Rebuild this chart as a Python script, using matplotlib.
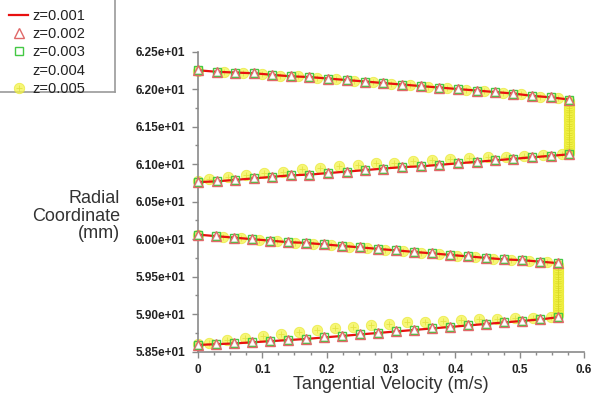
import matplotlib
matplotlib.use("Agg")
import matplotlib.pyplot as plt
from matplotlib.lines import Line2D
from matplotlib.legend_handler import HandlerTuple
from matplotlib.ticker import MultipleLocator, FuncFormatter

# ---------------- data ----------------
labels = ["z=0.001", "z=0.002", "z=0.003", "z=0.004", "z=0.005"]

# outer gap, upper wall -> inner wall (velocity, radial coordinate)
vel_upper = [0.000, 0.029, 0.058, 0.087, 0.115, 0.144, 0.173, 0.202, 0.231, 0.260, 0.288,
             0.317, 0.346, 0.375, 0.404, 0.433, 0.462, 0.490, 0.519, 0.548, 0.577]
rad_a = [62.25, 62.23, 62.22, 62.21, 62.19, 62.17, 62.16, 62.14, 62.12, 62.10, 62.08,
         62.06, 62.04, 62.02, 62.00, 61.98, 61.96, 61.94, 61.91, 61.89, 61.86]
rad_b = [60.76, 60.77, 60.79, 60.81, 60.83, 60.85, 60.86, 60.88, 60.90, 60.92, 60.94,
         60.96, 60.97, 60.99, 61.01, 61.03, 61.05, 61.07, 61.09, 61.11, 61.13]

vel_lower = [0.000, 0.028, 0.056, 0.084, 0.112, 0.140, 0.168, 0.196, 0.224, 0.252, 0.280,
             0.308, 0.336, 0.364, 0.392, 0.420, 0.448, 0.476, 0.504, 0.532, 0.560]
rad_c = [60.06, 60.04, 60.02, 60.00, 59.98, 59.96, 59.95, 59.93, 59.91, 59.89, 59.87,
         59.85, 59.83, 59.81, 59.79, 59.77, 59.75, 59.73, 59.72, 59.70, 59.68]
rad_d = [58.59, 58.60, 58.61, 58.625, 58.64, 58.655, 58.67, 58.69, 58.71, 58.73, 58.75,
         58.77, 58.79, 58.81, 58.83, 58.85, 58.87, 58.89, 58.91, 58.93, 58.96]

# z=0.005 series (slightly different from the others)
vel5_a = [0.000, 0.041, 0.070, 0.099, 0.127, 0.156, 0.185, 0.214, 0.243, 0.272, 0.300,
          0.329, 0.358, 0.387, 0.416, 0.445, 0.474, 0.502, 0.531, 0.560]
rad5_a = [62.24, 62.23, 62.22, 62.20, 62.18, 62.17, 62.15, 62.13, 62.11, 62.09, 62.07,
          62.05, 62.03, 62.01, 61.99, 61.97, 61.95, 61.93, 61.90, 61.88]
vel5_b = [0.000, 0.017, 0.046, 0.075, 0.103, 0.132, 0.161, 0.190, 0.219, 0.248, 0.276,
          0.305, 0.334, 0.363, 0.392, 0.421, 0.450, 0.478, 0.507, 0.536, 0.565]
rad5_b = [60.77, 60.80, 60.83, 60.86, 60.88, 60.90, 60.93, 60.95, 60.97, 60.99, 61.01,
          61.02, 61.04, 61.05, 61.07, 61.08, 61.09, 61.10, 61.11, 61.12, 61.14]
vel5_ab = [0.577] * 24
rad5_ab = [61.15, 61.18, 61.21, 61.24, 61.27, 61.30, 61.33, 61.36, 61.39, 61.42, 61.45, 61.48,
           61.51, 61.54, 61.57, 61.60, 61.63, 61.66, 61.69, 61.72, 61.75, 61.78, 61.81, 61.84]

vel5_c = [0.000, 0.039, 0.067, 0.095, 0.123, 0.151, 0.179, 0.207, 0.235, 0.263, 0.291,
          0.319, 0.347, 0.375, 0.403, 0.431, 0.459, 0.487, 0.515, 0.543]
rad5_c = [60.05, 60.03, 60.01, 59.99, 59.97, 59.95, 59.94, 59.92, 59.90, 59.88, 59.86,
          59.84, 59.82, 59.80, 59.78, 59.76, 59.74, 59.72, 59.71, 59.69]
vel5_d = [0.000, 0.017, 0.045, 0.073, 0.101, 0.129, 0.157, 0.185, 0.213, 0.241, 0.269,
          0.297, 0.325, 0.353, 0.381, 0.409, 0.437, 0.465, 0.493, 0.521, 0.549]
rad5_d = [58.60, 58.62, 58.65, 58.68, 58.71, 58.74, 58.76, 58.79, 58.81, 58.83, 58.85,
          58.87, 58.89, 58.90, 58.91, 58.92, 58.93, 58.94, 58.95, 58.95, 58.96]
vel5_cd = [0.560] * 23
rad5_cd = [58.99, 59.02, 59.05, 59.08, 59.11, 59.14, 59.17, 59.20, 59.23, 59.26, 59.29, 59.32,
           59.35, 59.38, 59.41, 59.44, 59.47, 59.50, 59.53, 59.56, 59.59, 59.62, 59.65]

x_ticks = [0, 0.1, 0.2, 0.3, 0.4, 0.5, 0.6]
y_ticks = [58.5, 59.0, 59.5, 60.0, 60.5, 61.0, 61.5, 62.0, 62.5]

# ---------------- figure ----------------
plt.rcParams['font.family'] = ['Liberation Sans', 'DejaVu Sans']
fig = plt.figure(figsize=(5.94, 4.05), dpi=100)
ax = fig.add_axes([0.3333, 0.1316, 0.9832 - 0.3333, 0.8728 - 0.1316])
ax.set_xlim(0, 0.6)
ax.set_ylim(58.5, 62.5)

ycol = '#f3f34a'
ycol_edge = '#e8e830'
segments_main = [(vel_upper, rad_a), (vel_upper, rad_b), (vel_lower, rad_c), (vel_lower, rad_d)]
segments_5 = [(vel5_a, rad5_a), (vel5_b, rad5_b), (vel5_ab, rad5_ab),
              (vel5_c, rad5_c), (vel5_d, rad5_d), (vel5_cd, rad5_cd)]

for vx, ry in segments_5:
    ax.plot(vx, ry, ls='none', marker='o', ms=7.5, mfc=ycol, mec=ycol_edge, mew=0.6,
            alpha=0.75, zorder=2, clip_on=False)
    ax.plot(vx, ry, ls='none', marker='+', ms=5, mec='#d8d820', mew=0.6, alpha=0.6,
            zorder=2, clip_on=False)

for vx, ry in segments_main:
    ax.plot(vx, ry, color='#e81010', lw=1.6, zorder=3, clip_on=False)
    ax.plot(vx, ry, ls='none', marker='^', ms=4.5, mfc='white', mec='#e8e8e8', mew=0.6,
            zorder=4, clip_on=False)
    ax.plot(vx, ry, ls='none', marker='s', ms=6, mfc='none', mec='#44c844', mew=1.0,
            zorder=5, clip_on=False)
    ax.plot(vx, ry, ls='none', marker='^', ms=7.5, mfc='none', mec='#e06868', mew=1.0,
            zorder=6, clip_on=False)

# axes styling
for s in ['top', 'right']:
    ax.spines[s].set_visible(False)
for s in ['left', 'bottom']:
    ax.spines[s].set_color('#8a8a8a')
    ax.spines[s].set_linewidth(1.2)
ax.set_xticks(x_ticks)
ax.set_yticks(y_ticks)
ax.xaxis.set_minor_locator(MultipleLocator(0.025))
ax.yaxis.set_minor_locator(MultipleLocator(0.25))
ax.xaxis.set_major_formatter(FuncFormatter(lambda v, p: '0' if v == 0 else f'{v:.1f}'))
ax.yaxis.set_major_formatter(FuncFormatter(lambda v, p: f'{v/10:.2f}e+01'))
ax.tick_params(which='major', length=4, width=1, color='#8a8a8a', labelsize=8.5,
               labelcolor='#222222')
ax.tick_params(which='minor', length=2.5, width=1, color='#8a8a8a')
ax.tick_params(axis='x', pad=5)
ax.tick_params(axis='y', pad=5)
for lab in ax.get_xticklabels() + ax.get_yticklabels():
    lab.set_fontweight('bold')

ax.set_xlabel('Tangential Velocity (m/s)', fontsize=13, color='#333333', labelpad=0)
fig.text(0.202, 0.466, 'Radial\nCoordinate\n(mm)', ha='right', va='center',
         multialignment='right', fontsize=13, color='#333333', linespacing=1.05)

# legend
h1 = Line2D([], [], color='#e81010', lw=1.6)
h2 = Line2D([], [], ls='none', marker='^', ms=7.5, mfc='none', mec='#e06868', mew=1.0)
h3 = Line2D([], [], ls='none', marker='s', ms=6, mfc='none', mec='#44c844', mew=1.0)
h4 = Line2D([], [], ls='none', marker='^', ms=4.5, mfc='white', mec='white')
h5a = Line2D([], [], ls='none', marker='o', ms=7.5, mfc=ycol, mec=ycol_edge, mew=0.6, alpha=0.75)
h5b = Line2D([], [], ls='none', marker='+', ms=5, mec='#d8d820', mew=0.6, alpha=0.6)
leg = fig.legend([h1, h2, h3, h4, (h5a, h5b)], labels, loc='upper left',
                 bbox_to_anchor=(0.0, 1.0), frameon=False, fontsize=10.5,
                 handlelength=1.35, handletextpad=0.25, labelspacing=0.3,
                 borderpad=0.6, borderaxespad=0.0,
                 handler_map={tuple: HandlerTuple(ndivide=1, pad=0)})
for t in leg.get_texts():
    t.set_color('#222222')
fig.add_artist(Line2D([0.194, 0.194], [0.773, 1.0], color='#9a9a9a', lw=1.2))
fig.add_artist(Line2D([0.0, 0.194], [0.773, 0.773], color='#9a9a9a', lw=1.2))

fig.savefig('out.png', dpi=100)
